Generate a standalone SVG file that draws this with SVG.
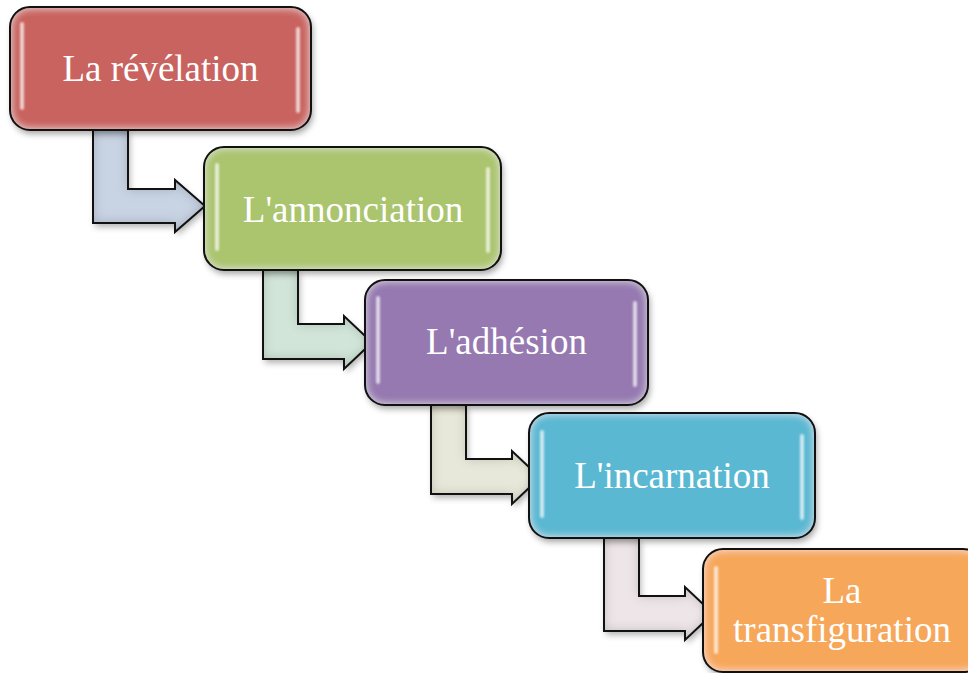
<svg xmlns="http://www.w3.org/2000/svg" width="968" height="673" viewBox="0 0 968 673">
<defs>
<style>
.edge{stroke:#111;stroke-width:2;fill:none}
.lbl{font-family:"Liberation Serif","DejaVu Serif",serif;font-size:37px;fill:#fff;text-anchor:middle}
.hl{fill:#fff;opacity:0.7}
.arr{stroke:#111;stroke-width:2;stroke-linejoin:miter}
</style>
<filter id="boxfx" x="-10%" y="-15%" width="125%" height="140%">
<feGaussianBlur in="SourceAlpha" stdDeviation="4" result="b"/>
<feComposite in="SourceAlpha" in2="b" operator="arithmetic" k2="1" k3="-1" result="edge"/>
<feFlood flood-color="#fff" flood-opacity="0.7"/>
<feComposite in2="edge" operator="in" result="glow"/>
<feOffset in="SourceAlpha" dx="2" dy="4" result="o"/>
<feGaussianBlur in="o" stdDeviation="3" result="sb"/>
<feFlood flood-color="#000" flood-opacity="0.35"/>
<feComposite in2="sb" operator="in" result="shadow"/>
<feMerge><feMergeNode in="shadow"/><feMergeNode in="SourceGraphic"/><feMergeNode in="glow"/></feMerge>
</filter>
<filter id="arrfx" x="-15%" y="-15%" width="140%" height="140%">
<feGaussianBlur in="SourceAlpha" stdDeviation="6" result="b"/>
<feComposite in="SourceAlpha" in2="b" operator="arithmetic" k2="1" k3="-1" result="edge"/>
<feFlood flood-color="#000" flood-opacity="0.4"/>
<feComposite in2="edge" operator="in" result="dark"/>
<feOffset in="SourceAlpha" dx="2" dy="4" result="o"/>
<feGaussianBlur in="o" stdDeviation="3" result="sb"/>
<feFlood flood-color="#000" flood-opacity="0.3"/>
<feComposite in2="sb" operator="in" result="shadow"/>
<feMerge><feMergeNode in="shadow"/><feMergeNode in="SourceGraphic"/><feMergeNode in="dark"/></feMerge>
</filter>
<filter id="soft" x="-100%" y="-10%" width="300%" height="120%">
<feGaussianBlur stdDeviation="0.8"/>
</filter>
</defs>

<g id="connectors">
<g id="arrow1">
<path d="M93,130 L128,130 L128,189 L175,189 L175,180 L205,206 L175,232 L175,223 L93,223 Z" fill="#C8D3E3" filter="url(#arrfx)"/>
<path class="arr" fill="none" d="M93,130 L128,130 L128,189 L175,189 L175,180 L205,206 L175,232 L175,223 L93,223 Z"/>
</g>
<g id="arrow2">
<path d="M263,270 L298,270 L298,324 L344,324 L344,316 L372,342.5 L344,369 L344,359 L263,359 Z" fill="#D2E5D9" filter="url(#arrfx)"/>
<path class="arr" fill="none" d="M263,270 L298,270 L298,324 L344,324 L344,316 L372,342.5 L344,369 L344,359 L263,359 Z"/>
</g>
<g id="arrow3">
<path d="M431,405 L466,405 L466,459 L512,459 L512,451 L540,477.5 L512,504 L512,494 L431,494 Z" fill="#E8E8DA" filter="url(#arrfx)"/>
<path class="arr" fill="none" d="M431,405 L466,405 L466,459 L512,459 L512,451 L540,477.5 L512,504 L512,494 L431,494 Z"/>
</g>
<g id="arrow4">
<path d="M604,538 L639,538 L639,596 L685,596 L685,587 L713,613.5 L685,640 L685,631 L604,631 Z" fill="#EDE5E7" filter="url(#arrfx)"/>
<path class="arr" fill="none" d="M604,538 L639,538 L639,596 L685,596 L685,587 L713,613.5 L685,640 L685,631 L604,631 Z"/>
</g>
</g>

<g id="node1">
<rect x="10" y="7" width="301" height="123" rx="20" fill="#C9645E" filter="url(#boxfx)"/>
<rect class="edge" x="10" y="7" width="301" height="123" rx="20"/>
<rect class="hl" x="20" y="22" width="4" height="88" rx="2" filter="url(#soft)"/>
<rect class="hl" x="296" y="27" width="4" height="86" rx="2" filter="url(#soft)"/>
<text class="lbl" x="160.5" y="81">La révélation</text>
</g>

<g id="node2">
<rect x="204" y="147" width="297" height="123" rx="20" fill="#ABC46E" filter="url(#boxfx)"/>
<rect class="edge" x="204" y="147" width="297" height="123" rx="20"/>
<rect class="hl" x="215" y="163" width="4" height="88" rx="2" filter="url(#soft)"/>
<rect class="hl" x="486" y="167" width="4" height="86" rx="2" filter="url(#soft)"/>
<text class="lbl" x="353" y="222">L'annonciation</text>
</g>

<g id="node3">
<rect x="365" y="280" width="283" height="125" rx="20" fill="#9579B0" filter="url(#boxfx)"/>
<rect class="edge" x="365" y="280" width="283" height="125" rx="20"/>
<rect class="hl" x="376" y="296" width="4" height="88" rx="2" filter="url(#soft)"/>
<rect class="hl" x="633" y="301" width="4" height="86" rx="2" filter="url(#soft)"/>
<text class="lbl" x="506.5" y="354">L'adhésion</text>
</g>

<g id="node4">
<rect x="529" y="413" width="286" height="125" rx="20" fill="#5AB8D2" filter="url(#boxfx)"/>
<rect class="edge" x="529" y="413" width="286" height="125" rx="20"/>
<rect class="hl" x="540" y="430" width="4" height="88" rx="2" filter="url(#soft)"/>
<rect class="hl" x="800" y="434" width="4" height="86" rx="2" filter="url(#soft)"/>
<text class="lbl" x="672" y="488">L'incarnation</text>
</g>

<g id="node5">
<rect x="703" y="549" width="280" height="123" rx="20" fill="#F6A75A" filter="url(#boxfx)"/>
<rect class="edge" x="703" y="549" width="280" height="123" rx="20"/>
<rect class="hl" x="714" y="566" width="4" height="88" rx="2" filter="url(#soft)"/>
<text class="lbl" x="842" y="603">La</text>
<text class="lbl" x="842" y="642">transfiguration</text>
</g>
</svg>
